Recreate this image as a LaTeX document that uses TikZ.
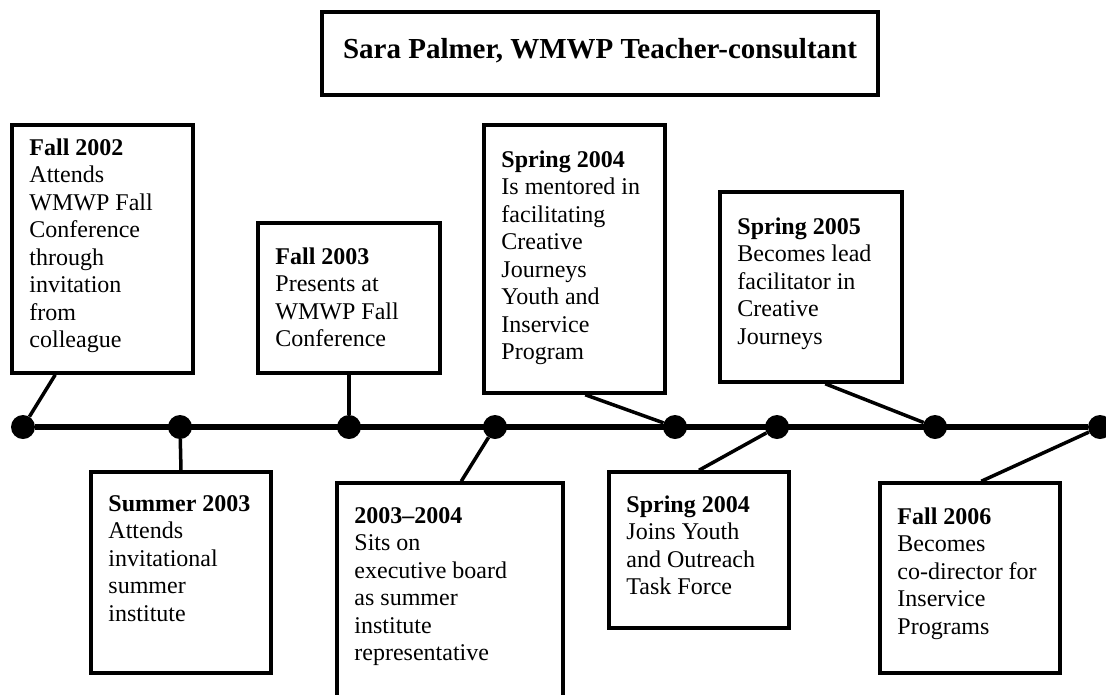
\documentclass[tikz,border=0pt]{standalone}
\usepackage{fontspec}
\setmainfont{Liberation Serif}
\usetikzlibrary{positioning,calc}

\newcommand{\evfont}{\fontsize{24pt}{27.5pt}\selectfont}

\begin{document}
\begin{tikzpicture}[
    x=1pt, y=-1pt,
    evbox/.style={draw, line width=3.5pt, inner sep=0pt},
    evtext/.style={anchor=north west, align=left, inner sep=0pt, font=\evfont},
    evdot/.style={circle, fill=black, inner sep=0pt, minimum size=24pt},
    stem/.style={line width=3.5pt},
    titlebox/.style={draw, line width=3.5pt, minimum width=556pt, minimum height=83pt,
        font=\fontsize{29pt}{34pt}\selectfont\bfseries, text height=20pt, text depth=11pt}
]
    \useasboundingbox (0,0) rectangle (1106,694);

    % Title
    \node[titlebox] (title) at (600,53.5) {Sara Palmer, WMWP Teacher-consultant};

    % Upper boxes
    \node[evbox, minimum width=181pt, minimum height=248pt] (fall02) at (102.5,249) {};
    \node[evtext] (fall02t) at ([shift={(19,15)}]fall02.north west)
        {\textbf{Fall 2002}\\Attends\\WMWP Fall\\Conference\\through\\invitation\\from\\colleague};

    \node[evbox, minimum width=182pt, minimum height=150pt] (fall03) at (349,298) {};
    \node[evtext] (fall03t) at ([shift={(19,26)}]fall03.north west)
        {\textbf{Fall 2003}\\Presents at\\WMWP Fall\\Conference};

    \node[evbox, minimum width=181pt, minimum height=268pt] (spr04a) at (574.5,259) {};
    \node[evtext] (spr04at) at ([shift={(19,27)}]spr04a.north west)
        {\textbf{Spring 2004}\\Is mentored in\\facilitating\\Creative\\Journeys\\Youth and\\Inservice\\Program};

    \node[evbox, minimum width=182pt, minimum height=190pt] (spr05) at (811,287) {};
    \node[evtext] (spr05t) at ([shift={(19,27)}]spr05.north west)
        {\textbf{Spring 2005}\\Becomes lead\\facilitator in\\Creative\\Journeys};

    % Lower boxes
    \node[evbox, minimum width=180pt, minimum height=201pt] (sum03) at (181,572.5) {};
    \node[evtext] (sum03t) at ([shift={(19,25)}]sum03.north west)
        {\textbf{Summer 2003}\\Attends\\invitational\\summer\\institute};

    \node[evbox, minimum width=226pt, minimum height=217pt] (y0304) at (450,591.5) {};
    \node[evtext] (y0304t) at ([shift={(19,26)}]y0304.north west)
        {\textbf{2003--2004}\\Sits on\\executive board\\as summer\\institute\\representative};

    \node[evbox, minimum width=180pt, minimum height=156pt] (spr04b) at (699,550) {};
    \node[evtext] (spr04bt) at ([shift={(19,25)}]spr04b.north west)
        {\textbf{Spring 2004}\\Joins Youth\\and Outreach\\Task Force};

    \node[evbox, minimum width=180pt, minimum height=190pt] (fall06) at (970,578) {};
    \node[evtext] (fall06t) at ([shift={(19,26)}]fall06.north west)
        {\textbf{Fall 2006}\\Becomes\\co-director for\\Inservice\\Programs};

    % Timeline dots
    \node[evdot] (d1) at (23,427) {};
    \node[evdot] (d2) at (180,427) {};
    \node[evdot] (d3) at (349,427) {};
    \node[evdot] (d4) at (495,427) {};
    \node[evdot] (d5) at (675,427) {};
    \node[evdot] (d6) at (777,427) {};
    \node[evdot] (d7) at (935,427) {};
    \node[evdot] (d8) at (1100,427) {};

    % Timeline
    \draw[line width=6.5pt] (d1) -- (d8);

    % Connectors
    \draw[stem] ([xshift=45pt]fall02.south west) -- (d1);
    \draw[stem] (sum03.north) -- (d2);
    \draw[stem] (fall03.south) -- (d3);
    \draw[stem] ([xshift=126pt]y0304.north west) -- (d4);
    \draw[stem] ([xshift=103pt]spr04a.south west) -- (d5);
    \draw[stem] (spr04b.north) -- (d6);
    \draw[stem] ([xshift=107pt]spr05.south west) -- (d7);
    \draw[stem] ([xshift=103pt]fall06.north west) -- (d8);
\end{tikzpicture}
\end{document}
